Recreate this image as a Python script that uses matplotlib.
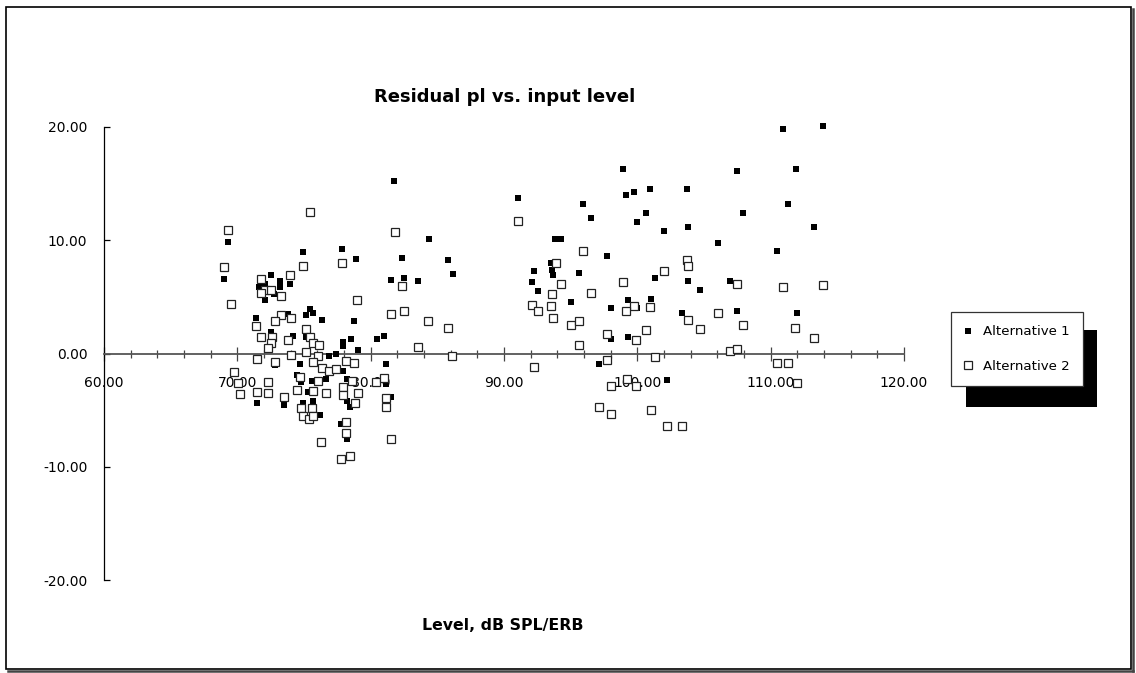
import matplotlib
matplotlib.use("Agg")
import matplotlib.pyplot as plt
from matplotlib.ticker import MultipleLocator, FormatStrFormatter
from matplotlib.patches import Rectangle
from matplotlib.lines import Line2D

# Alternative 1 (filled squares)
alt1_x = [69.02, 69.28, 74.93, 77.82, 78.92, 81.77, 82.32, 81.52, 82.52, 83.57,
          72.55, 73.22, 73.22, 73.98, 72.08, 72.78, 72.08, 71.62, 71.42, 73.82,
          75.12, 75.48, 75.71, 76.38, 78.76, 72.55, 74.18, 75.16, 78.56, 80.47,
          81.02, 77.96, 77.96, 79.06, 77.42, 76.85, 72.82, 74.72, 81.14, 77.96,
          74.48, 76.66, 74.78, 75.58, 78.22, 81.17, 75.29, 78.22, 78.46, 81.52,
          71.46, 73.53, 74.96, 75.71, 76.22, 77.76, 78.19, 84.34, 85.80, 86.15,
          91.05, 95.93, 96.53, 93.85, 94.28, 97.72, 92.22, 93.52, 93.62, 93.70,
          95.65, 92.12, 92.52, 95.02, 98.02, 98.02, 97.16, 98.92, 107.47, 99.17,
          99.72, 100.92, 103.72, 99.96, 100.62, 103.82, 107.92, 101.98, 106.02, 101.32,
          103.82, 104.72, 106.92, 101.02, 99.28, 99.96, 103.32, 107.49, 99.28, 102.22,
          110.92, 113.92, 111.92, 111.32, 113.27, 110.47, 111.97]
alt1_y = [6.56, 9.83, 8.95, 9.25, 8.36, 15.20, 8.45, 6.50, 6.70, 6.36,
          6.95, 6.42, 5.90, 6.12, 6.12, 5.24, 4.68, 5.90, 3.15, 3.50,
          3.42, 3.97, 3.56, 2.97, 2.86, 1.91, 1.56, 1.44, 1.32, 1.32,
          1.53, 0.99, 0.66, 0.31, -0.04, -0.22, -1.02, -0.93, -0.93, -1.52,
          -1.90, -2.23, -2.49, -2.40, -2.23, -2.70, -3.40, -4.17, -4.70, -3.82,
          -4.37, -4.52, -4.40, -4.22, -5.43, -6.25, -7.58, 10.10, 8.28, 7.00,
          13.75, 13.16, 11.98, 10.10, 10.10, 8.57, 7.30, 7.95, 7.33, 6.95,
          7.10, 6.33, 5.50, 4.56, 4.00, 1.30, -0.90, 16.25, 16.10, 14.00,
          14.30, 14.50, 14.55, 11.60, 12.43, 11.16, 12.40, 10.78, 9.78, 6.65,
          6.42, 5.60, 6.42, 4.83, 4.75, 4.00, 3.60, 3.74, 1.50, -2.30,
          19.85, 20.05, 16.25, 13.16, 11.20, 9.07, 3.60]

# Alternative 2 (open squares)
alt2_x = [75.46, 69.28, 81.79, 69.02, 74.93, 77.82, 73.98, 71.76, 82.32, 72.08,
          72.53, 71.76, 73.25, 69.55, 78.94, 82.52, 81.54, 73.25, 74.06, 72.83,
          71.43, 75.13, 71.76, 72.61, 73.82, 75.46, 72.53, 72.32, 74.02, 75.18,
          75.71, 76.14, 76.04, 75.71, 76.38, 76.86, 77.42, 78.16, 78.76, 72.82,
          71.46, 69.78, 70.02, 70.20, 71.46, 72.32, 72.32, 73.52, 74.46, 74.71,
          75.71, 76.04, 76.64, 77.96, 77.96, 78.59, 79.06, 78.84, 80.39, 81.02,
          81.17, 81.17, 74.78, 75.58, 74.96, 75.34, 75.71, 78.13, 78.13, 76.25,
          81.52, 77.79, 78.46, 83.52, 91.05, 95.90, 93.88, 94.25, 96.53, 93.62,
          92.12, 92.52, 93.50, 93.70, 95.00, 95.65, 95.65, 97.72, 97.72, 84.32,
          85.77, 86.12, 92.22, 103.72, 103.82, 101.98, 98.92, 107.47, 99.72, 99.12,
          100.92, 103.82, 106.02, 107.92, 104.72, 100.62, 99.92, 106.92, 107.49, 101.32,
          98.02, 99.26, 99.92, 97.16, 98.02, 101.02, 102.22, 103.32, 110.92, 113.90,
          111.82, 113.27, 110.47, 111.32, 111.97]
alt2_y = [12.48, 10.90, 10.75, 7.60, 7.77, 8.00, 6.92, 6.54, 5.92, 5.60,
          5.62, 5.33, 5.06, 4.33, 4.68, 3.74, 3.45, 3.36, 3.15, 2.83,
          2.41, 2.15, 1.50, 1.50, 1.15, 1.50, 0.90, 0.46, -0.13, 0.16,
          0.90, 0.78, -0.22, -0.72, -1.25, -1.52, -1.37, -0.64, -0.87, -0.72,
          -0.51, -1.60, -2.63, -3.58, -3.37, -2.49, -3.52, -3.87, -3.22, -2.05,
          -3.31, -2.40, -3.52, -2.93, -3.67, -2.40, -3.46, -4.40, -2.49, -2.19,
          -3.96, -4.70, -4.84, -4.84, -5.52, -5.82, -5.52, -6.02, -7.05, -7.85,
          -7.58, -9.35, -9.05, 0.55, 11.66, 9.04, 8.00, 6.18, 5.30, 5.24,
          4.30, 3.72, 4.21, 3.13, 2.50, 2.88, 0.73, 1.70, -0.55, 2.88,
          2.23, -0.18, -1.20, 8.30, 7.70, 7.30, 6.33, 6.12, 4.20, 3.74,
          4.10, 2.93, 3.55, 2.50, 2.15, 2.05, 1.20, 0.19, 0.37, -0.28,
          -2.90, -2.23, -2.90, -4.73, -5.35, -5.00, -6.40, -6.40, 5.90, 6.07,
          2.23, 1.34, -0.82, -0.82, -2.60]

y_ticks = [-20, -10, 0, 10, 20]
series_names = ["Alternative 1", "Alternative 2"]

plt.rcParams['font.family'] = ['DejaVu Sans']

W, H = 1136, 673
fig = plt.figure(figsize=(W / 100, H / 100), dpi=100)
ax = fig.add_axes([104 / W, 1 - 580 / H, 800 / W, 453 / H])

ax.plot(alt1_x, alt1_y, 's', color='black', markersize=4.3, markeredgewidth=0,
        linestyle='none', zorder=3, clip_on=False)
ax.plot(alt2_x, alt2_y, 's', markerfacecolor='white', markeredgecolor='#222222',
        markersize=5.6, markeredgewidth=0.9, linestyle='none', zorder=4, clip_on=False)

ax.set_xlim(60, 120)
ax.set_ylim(-20, 20)
ax.spines['top'].set_visible(False)
ax.spines['right'].set_visible(False)
ax.spines['bottom'].set_position(('data', 0))
ax.spines['bottom'].set_color('#555555')
ax.spines['bottom'].set_linewidth(1.3)
ax.spines['left'].set_color('black')
ax.spines['left'].set_linewidth(0.9)

ax.xaxis.set_major_locator(MultipleLocator(10))
ax.xaxis.set_minor_locator(MultipleLocator(2))
ax.xaxis.set_major_formatter(FormatStrFormatter('%.2f'))
ax.set_yticks(y_ticks)
ax.yaxis.set_major_formatter(FormatStrFormatter('%.2f'))

ax.tick_params(axis='x', which='major', direction='inout', length=9.4, width=0.9,
               color='#444444', pad=11.5, labelsize=10, labelcolor='black')
ax.tick_params(axis='x', which='minor', direction='inout', length=6.2, width=0.9,
               color='#444444')
ax.tick_params(axis='y', which='major', direction='in', length=4.5, width=0.9,
               color='black', pad=12, labelsize=10)

fig.text(505 / W, 1 - 97 / H, "Residual pl vs. input level", ha='center', va='center',
         fontsize=13, fontweight='bold')
fig.text(503 / W, 1 - 626 / H, "Level, dB SPL/ERB", ha='center', va='center',
         fontsize=11.3, fontweight='bold')

# legend with solid black shadow
handles = [Line2D([], [], marker='s', color='black', markersize=4.3, markeredgewidth=0, linestyle='none'),
           Line2D([], [], marker='s', markerfacecolor='white', markeredgecolor='#222222',
                  markersize=5.6, markeredgewidth=0.9, linestyle='none')]
fig.add_artist(Rectangle((966 / W, 1 - 407 / H), 131 / W, 77 / H, transform=fig.transFigure,
                         facecolor='black', edgecolor='none', zorder=1))
leg = fig.legend(handles, series_names, loc='upper left', bbox_to_anchor=(951 / W, 1 - 312 / H),
                 frameon=True, fancybox=False, edgecolor='#333333', framealpha=1, fontsize=9.6,
                 labelspacing=1.6, borderpad=1.0, handlelength=0.6, handletextpad=0.8,
                 borderaxespad=0)
leg.get_frame().set_linewidth(0.9)
leg.set_zorder(5)

# outer chart border
fig.add_artist(Rectangle((6 / W, 1 - 669 / H), 1125 / W, 662 / H, transform=fig.transFigure,
                         facecolor='none', edgecolor='black', linewidth=1.2, zorder=0))
fig.add_artist(Line2D([1133 / W, 1133 / W], [1 - 671 / H, 1 - 9 / H], transform=fig.transFigure,
                      color='#444444', linewidth=1.8))
fig.add_artist(Line2D([8 / W, 1133 / W], [1 - 671 / H, 1 - 671 / H], transform=fig.transFigure,
                      color='#444444', linewidth=1.8))

fig.savefig("out.png", dpi=100)
